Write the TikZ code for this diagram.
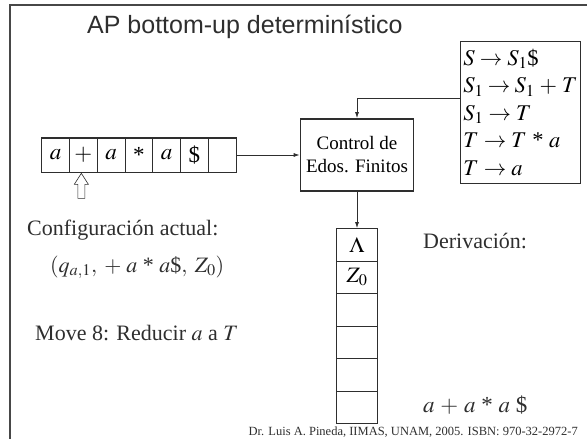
\documentclass[tikz,border=0pt]{standalone}
\usepackage{mathptmx}
\usepackage{fontspec}
\setmainfont{Liberation Serif}
\newfontfamily\aptitlefont{Liberation Sans}
\usetikzlibrary{arrows.meta,positioning}
\colorlet{apline}{black!82}
\colorlet{apframecol}{black!72}
\newcommand{\apast}{\mathbin{\,\mbox{*}\,}}
\tikzset{
  apcell/.style={draw=apline,semithick,minimum width=27.76pt,minimum height=34pt,
                 inner sep=0pt,font=\fontsize{23}{26}\selectfont},
  apstack/.style={draw=apline,semithick,minimum width=41pt,minimum height=32.5pt,
                  inner sep=0pt,font=\fontsize{22}{26}\selectfont},
  apctrl/.style={draw=apline,line width=1.6pt,minimum width=113pt,minimum height=72pt,
                 align=center,inner sep=2pt,font=\fontsize{19}{23}\selectfont},
  apgram/.style={draw=apline,line width=0.9pt,align=left,inner sep=3pt,text width=114pt,
                 minimum height=142pt,font=\fontsize{22.5}{27.5}\selectfont},
  apflow/.style={-{Latex[length=6pt,width=4pt]},line width=0.9pt,apline},
  aphollow/.style={draw=apline,semithick,fill=white,line join=miter},
  aptext/.style={font=\fontsize{22}{26}\selectfont,text=apline,inner sep=0pt},
  apfoot/.style={font=\fontsize{12.5}{14}\selectfont,text=apline,inner sep=0pt},
  apframe/.style={line width=2.5pt,apframecol,line join=miter}
}
\begin{document}
\begin{tikzpicture}[x=1pt,y=-1pt]
  \useasboundingbox (0,0) rectangle (587,439);
  \draw[apframe] (10,439) -- (10,5) -- (587,5);

  \node[aptext,anchor=base west,font=\aptitlefont\fontsize{25}{28}\selectfont] (title) at (87,33)
    {AP bottom-up determinístico};

  % input tape
  \foreach \sym [count=\i] in {$a$,$+$,$a$,*,$a$,\$,{}}
    \node[apcell] (t\i) at ({41.7+27.76*(\i-0.5)},155) {\sym};
  \draw[apline,line width=1.6pt] (t1.north west) rectangle (t7.south east);
  \draw[aphollow] ([shift={(-2,1)}]t2.south) -- ++(7,11) -- ++(-3.5,0) -- ++(0,14)
    -- ++(-7,0) -- ++(0,-14) -- ++(-3.5,0) -- cycle;

  % finite control and grammar
  \node[apctrl] (ctrl) at (357,155) {Control de\\Edos. Finitos};
  \node[apgram,anchor=north west] (gram) at (460,41)
    {$S \rightarrow S_1$\$\\
     $S_1 \rightarrow S_1 \mathbin{\,+\,} T$\\
     $S_1 \rightarrow T$\\
     $T \rightarrow T \apast a$\\
     $T \rightarrow a$};
  \coordinate (gramtap) at (gram.west |- 0,98);
  \draw[apflow] (t7.east) -- (ctrl.west);
  \draw[apflow] (gramtap) -| (ctrl.north);

  % stack
  \foreach \sym [count=\i] in {$\Lambda$,$Z_0$,{},{},{},{}}
    \node[apstack] (s\i) at (357,{228.5+32.5*(\i-0.5)}) {\sym};
  \draw[apline,line width=1.2pt] (s1.north west) rectangle (s6.south east);
  \draw[apflow] (ctrl.south) -- (s1.north);

  % texts
  \node[aptext,anchor=base west] (cfg) at (27,235) {Configuración actual:};
  \node[aptext,anchor=base west] (cfgval) at (50,272)
    {$(q_{a,1},\; + \; a \apast a$\$$,\; Z_0)$};
  \node[aptext,anchor=base west] (move) at (35,340) {Move 8: Reducir $a$ a $T$};
  \node[aptext,anchor=base west] (deriv) at (423,248) {Derivación:};
  \node[aptext,anchor=base west,font=\fontsize{23}{26}\selectfont] (derivval) at (423,412)
    {$a \mathbin{\,+\,} a \apast a$ \$};
  \node[apfoot,anchor=base east] (foot) at (578,435)
    {Dr. Luis A. Pineda, IIMAS, UNAM, 2005. ISBN: 970-32-2972-7};
\end{tikzpicture}
\end{document}
